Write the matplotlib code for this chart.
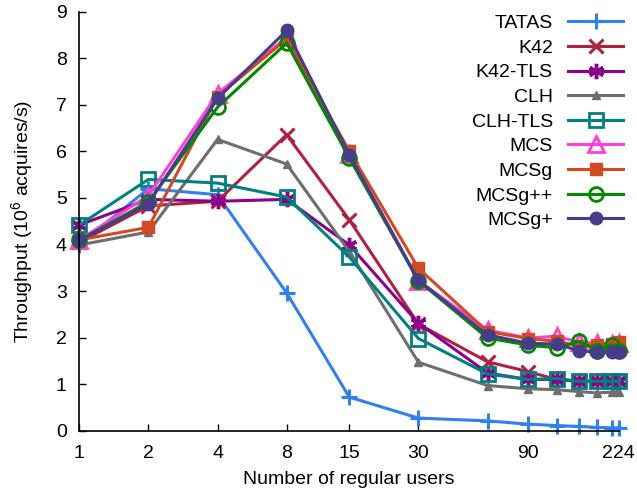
import matplotlib
matplotlib.use("Agg")
import matplotlib.pyplot as plt

plt.rcParams['font.family'] = ['Liberation Sans', 'DejaVu Sans']
plt.rcParams['font.size'] = 14
plt.rcParams['mathtext.fontset'] = 'custom'
plt.rcParams['mathtext.rm'] = 'Liberation Sans'

users = [1, 2, 4, 8, 15, 30, 60, 90, 120, 150, 180, 210, 224]
tick_users = [1, 2, 4, 8, 15, 30, 90, 224]

tatas   = [4.00, 5.20, 5.07, 2.96, 0.72, 0.27, 0.21, 0.14, 0.11, 0.09, 0.07, 0.06, 0.06]
k42     = [4.05, 4.83, 4.93, 6.36, 4.53, 2.29, 1.48, 1.27, 1.10, 1.06, 1.06, 1.06, 1.06]
k42_tls = [4.42, 4.97, 4.93, 4.97, 3.99, 2.31, 1.24, 1.10, 1.10, 1.06, 1.06, 1.06, 1.06]
clh     = [3.99, 4.27, 6.26, 5.73, 3.85, 1.47, 0.97, 0.90, 0.88, 0.84, 0.81, 0.83, 0.84]
clh_tls = [4.42, 5.40, 5.32, 5.02, 3.73, 1.98, 1.22, 1.10, 1.12, 1.06, 1.06, 1.06, 1.06]
mcs     = [4.10, 5.05, 7.24, 8.45, 5.95, 3.22, 2.16, 1.99, 2.03, 1.90, 1.88, 1.86, 1.88]
mcsg    = [4.10, 4.37, 7.18, 8.42, 6.01, 3.49, 2.13, 1.98, 1.92, 1.82, 1.85, 1.87, 1.90]
mcsgpp  = [4.09, 4.92, 6.95, 8.33, 5.86, 3.22, 1.99, 1.84, 1.78, 1.92, 1.72, 1.85, 1.72]
mcsgp   = [4.09, 4.88, 7.14, 8.60, 5.93, 3.23, 2.06, 1.88, 1.86, 1.72, 1.68, 1.70, 1.69]

series = [
    ("TATAS",   tatas,   dict(color='#3080f0', marker='+', markersize=11, mew=2.2)),
    ("K42",     k42,     dict(color='#b0203f', marker='x', markersize=10, mew=2.2)),
    ("K42-TLS", k42_tls, dict(color='#8c008c', marker=(6, 2, 0), markersize=11, mew=2.5)),
    ("CLH",     clh,     dict(color='#6e6e6e', marker='^', markersize=6)),
    ("CLH-TLS", clh_tls, dict(color='#008080', marker='s', markersize=10, mfc='none', mew=2)),
    ("MCS",     mcs,     dict(color='#ff40d8', marker='^', markersize=11, mfc='none', mew=2)),
    ("MCSg",    mcsg,    dict(color='#d44a20', marker='s', markersize=9)),
    ("MCSg++",  mcsgpp,  dict(color='#008a00', marker='o', markersize=10, mfc='none', mew=2)),
    ("MCSg+",   mcsgp,   dict(color='#473c8b', marker='o', markersize=9)),
]

fig = plt.figure(figsize=(6.37, 4.95), dpi=100)
ax = fig.add_axes([0.1245, 0.13, 0.847, 0.846])

for name, vals, st in series:
    ax.plot(users, vals, label=name, linewidth=2.2, clip_on=False, **st)

ax.set_xscale('log', base=2)
ax.set_xlim(1, 224)
ax.set_ylim(0, 9)
ax.set_xticks(tick_users)
ax.set_xticklabels([str(u) for u in tick_users])
ax.minorticks_off()
ax.set_yticks(range(0, 10))
ax.tick_params(axis='y', direction='in', length=5, width=1, pad=9, labelsize=14)
ax.tick_params(axis='x', direction='in', length=5, width=1, pad=10, labelsize=14)
for s in ['top', 'right']:
    ax.spines[s].set_visible(False)
for s in ['left', 'bottom']:
    ax.spines[s].set_linewidth(1.2)

ax.set_xlabel("Number of regular users", fontsize=14, labelpad=7)
ax.set_ylabel("Throughput (10$^6$ acquires/s)", fontsize=14, labelpad=14)

leg = ax.legend(loc='upper right', bbox_to_anchor=(1.023, 1.012), markerfirst=False,
                frameon=False, handlelength=2.85, handletextpad=0.78,
                labelspacing=0.36, borderaxespad=0.0, fontsize=14)

fig.savefig("out.png", dpi=100)
